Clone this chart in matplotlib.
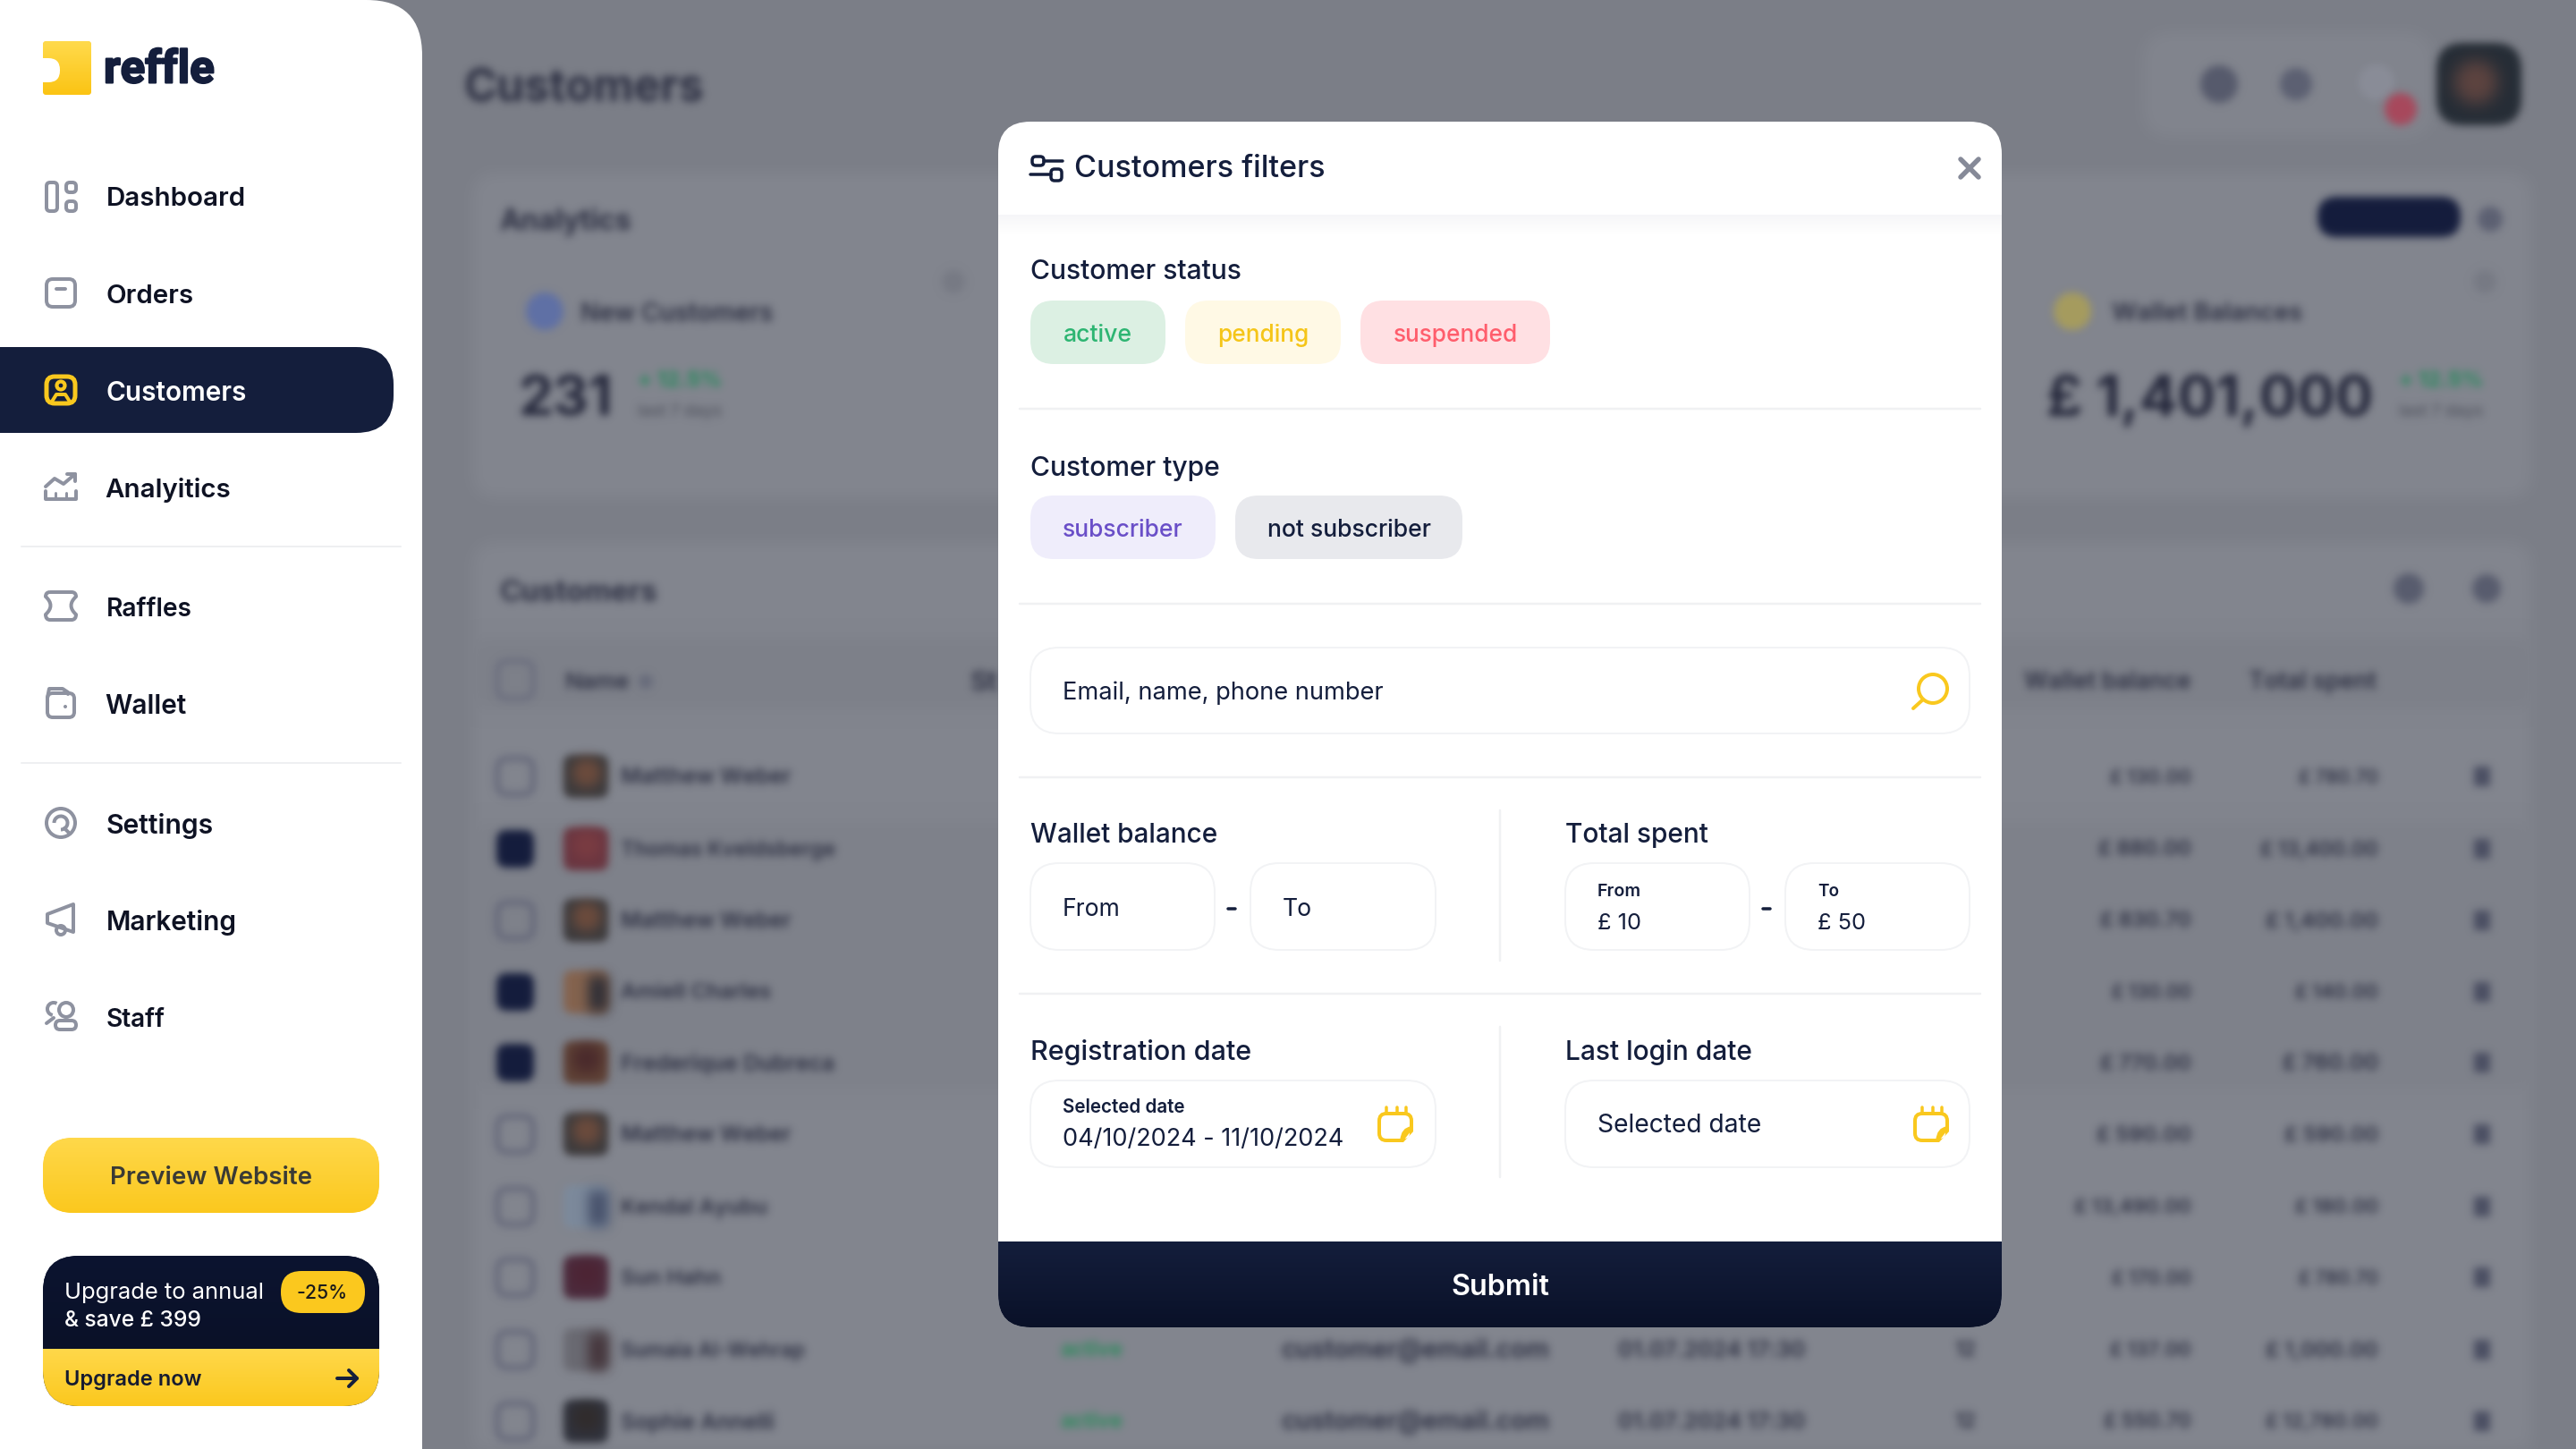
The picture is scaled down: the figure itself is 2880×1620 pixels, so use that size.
import numpy as np
import matplotlib
matplotlib.use("Agg")
from matplotlib import pyplot as plt
from matplotlib.patches import FancyBboxPatch, Circle, Rectangle, PathPatch, Polygon, Arc
from matplotlib.path import Path
from matplotlib import patheffects as pe

plt.rcParams['font.family'] = ['Inter', 'Noto Sans', 'DejaVu Sans']

# sidebar
nav_labels = ["Dashboard", "Orders", "Customers", "Analyitics", "Raffles", "Wallet", "Settings", "Marketing", "Staff"]
nav_y = [219, 328, 436, 544, 678, 786, 920, 1028, 1137]
nav_w = [156, 98, 157, 141, 96, 91, 120, 146, 66]

# modal pills
status_labels = ["active", "pending", "suspended"]
type_labels = ["subscriber", "not subscriber"]

# blurred table behind the modal
row_names = ["Matthew Weber", "Thomas Kveldsberge", "Matthew Weber", "Amiell Charles", "Frederique Dubreca",
             "Matthew Weber", "Kendal Ayubu", "Sun Hahn", "Sumaia Al-Wehrap", "Sophie Annelli"]
row_y = [868, 949, 1029, 1109, 1188, 1268, 1349, 1428, 1509, 1589]
row_name_end = [884, 933, 884, 862, 933, 884, 858, 806, 900, 866]
row_checked = [0, 1, 0, 1, 1, 0, 0, 0, 0, 0]
row_wallet = ["£ 130.00", "£ 880.00", "£ 830.70", "£ 130.00", "£ 770.00", "£ 590.00", "£ 13,490.00", "£ 170.00", "£ 137.00", "£ 550.70"]
row_wallet_start = [2359, 2346, 2348, 2361, 2348, 2344, 2319, 2361, 2359, 2352]
row_total = ["£ 780.70", "£ 13,400.00", "£ 1,400.00", "£ 140.00", "£ 760.00", "£ 590.00", "£ 180.00", "£ 780.70", "£ 1,000.00", "£ 12,780.00"]
row_total_start = [2570, 2527, 2533, 2566, 2552, 2554, 2566, 2570, 2533, 2533]
avatar_cols = [("#3c3a3c", "#6e4c3c"), ("#6a3540", "#7a3c42"), ("#3c3a3c", "#6e4c3c"), ("#85634e", "#2e2e36"),
               ("#5e4034", "#4a2a2c"), ("#3c3a3c", "#6e4c3c"), ("#7c8a9c", "#46506a"), ("#4c2a3c", "#4c2434"),
               ("#6a6a72", "#44343a"), ("#30323c", "#302c2c")]
avatar_split = [0, 0, 0, 1, 0, 0, 1, 0, 1, 0]

INK = "#141E3C"
GREY = "#8E92A0"
YEL = "#F9C81E"
BLUR_INK = "#2c2f42"

fig = plt.figure(figsize=(28.8, 16.2), dpi=100)
ax = fig.add_axes([0, 0, 1, 1])
ax.axis("off")


def blur(sigma):
    pad = int(3 * sigma)
    xs = np.arange(-pad, pad + 1)
    k = np.exp(-xs ** 2 / (2.0 * sigma ** 2))
    k = k / k.sum()

    def f(img, dpi):
        a = img[..., 3]
        i = np.unravel_index(np.argmax(a), a.shape)
        rgb = img[i][:3]
        a = np.pad(a, pad)
        a = np.apply_along_axis(lambda m: np.convolve(m, k, mode="same"), 0, a)
        a = np.apply_along_axis(lambda m: np.convolve(m, k, mode="same"), 1, a)
        out = np.zeros(a.shape + (4,))
        out[..., :3] = rgb
        out[..., 3] = a
        return out, -pad, -pad
    return f


B = blur(4.5)
B_mid = blur(7)
B_big = blur(9)


def box(x0, y0, x1, y1, r, fc, ec="none", lw=0, z=2, flt=None, alpha=None):
    p = FancyBboxPatch((x0, y0), x1 - x0, y1 - y0, boxstyle="round,pad=0,rounding_size=%g" % r,
                       fc=fc, ec=ec, lw=lw * 0.72, zorder=z, alpha=alpha)
    if flt:
        p.set_agg_filter(flt)
    ax.add_patch(p)
    return p


def line(xs, ys, c=GREY, lw=4, z=5, cap="round"):
    ax.plot(xs, ys, color=c, lw=lw * 0.72, zorder=z, solid_capstyle=cap, solid_joinstyle="round")


def label(x, y, s, w=None, size=30, c=INK, weight="medium", ha="left", z=6, flt=None, family=None):
    t = ax.text(x, y + 3.5, s, fontsize=size * 0.72, color=c, fontweight=weight, ha=ha, va="center", zorder=z)
    if family:
        t.set_family(family)
    if w:
        cur = t.get_window_extent(fig.canvas.get_renderer()).width
        t.set_fontsize(t.get_fontsize() * w / cur)
    if flt:
        t.set_agg_filter(flt)
    return t


def grad(clip, x0, y0, x1, y1, top, bottom, z=3):
    c0 = np.array(matplotlib.colors.to_rgb(top))
    c1 = np.array(matplotlib.colors.to_rgb(bottom))
    g = np.linspace(0, 1, 64)[:, None, None]
    im = ax.imshow(c0 + (c1 - c0) * g, extent=(x0, x1, y1, y0), aspect="auto", zorder=z, interpolation="bilinear")
    im.set_clip_path(clip)


# ---- page behind the overlay (blurred)
ax.add_patch(Rectangle((0, 0), 2880, 1620, fc="#7B7E87", ec="none", zorder=0))
box(529, 194, 2830, 556, 24, "#83868F", z=1, flt=B_big)
box(529, 607, 2830, 1700, 24, "#83868F", z=1, flt=B_big)
box(2396, 36, 2720, 153, 30, "#82858E", z=1, flt=B_big)
ax.add_patch(Rectangle((529, 714), 2301, 78, fc="#7D8089", ec="none", zorder=1.2, agg_filter=B_big))
ax.add_patch(Rectangle((529, 920), 2301, 298, fc="#7E818A", ec="none", zorder=1.2, agg_filter=B_big))

label(519, 96, "Customers", w=269, weight="bold", c=BLUR_INK, flt=B, z=1.5)
label(558, 244, "Analytics", w=148, weight="bold", c=BLUR_INK, flt=B, z=1.5)
label(558, 660, "Customers", w=177, weight="bold", c=BLUR_INK, flt=B, z=1.5)
label(649, 348, "New Customers", w=215, weight="semibold", c=BLUR_INK, flt=B, z=1.5)
label(2361, 348, "Wallet Balances", w=213, weight="semibold", c=BLUR_INK, flt=B, z=1.5)
label(580, 445, "231", w=105, weight="bold", c="#23263a", flt=B, z=1.5)
label(2288, 445, "£ 1,401,000", w=365, weight="bold", c="#23263a", flt=B, z=1.5)
for x0 in (713, 2682):
    label(x0, 423, "+ 12.5%", w=94, weight="bold", c="#1f8a58", flt=B, z=1.5)
    label(x0, 457, "last 7 days", w=94, c="#4e515c", flt=B, z=1.5)

for x, y, r, c in [(609, 348, 21, "#5f70a6"), (2317, 348, 21, "#a69c5e"), (2481, 94, 21, "#565a6c"),
                   (2567, 94, 18, "#5c6072"), (2657, 92, 20, "#8a8d98"), (2684, 122, 18, "#a8485c"),
                   (1066, 315, 13, "#777a84"), (2778, 315, 13, "#777a84"), (2693, 658, 17, "#585c6e"),
                   (2780, 658, 16, "#585c6e"), (2784, 245, 14, "#5c6072")]:
    ax.add_patch(Circle((x, y), r, fc=c, ec="none", zorder=1.5, agg_filter=B))
box(2724, 48, 2819, 140, 30, "#262d36", z=1.5, flt=B)
ax.add_patch(Circle((2768, 92), 24, fc="#5e4440", ec="none", zorder=1.6, agg_filter=B_big))
box(2591, 220, 2751, 265, 22, "#141c3c", z=1.5, flt=B)

# table head
box(556, 739, 596, 781, 12, "none", ec="#63667a", lw=4, z=1.5, flt=B)
label(631, 760, "Name", w=72, weight="semibold", c=BLUR_INK, flt=B, z=1.5)
ax.add_patch(Circle((722, 762), 8, fc="#666a7a", ec="none", zorder=1.5, agg_filter=B))
label(1085, 760, "St", w=31, weight="semibold", c=BLUR_INK, flt=B, z=1.5)
label(2263, 760, "Wallet balance", w=186, weight="semibold", c=BLUR_INK, flt=B, z=1.5)
label(2514, 760, "Total spent", w=143, weight="semibold", c=BLUR_INK, flt=B, z=1.5)

for i, name in enumerate(row_names):
    y = row_y[i]
    if row_checked[i]:
        box(555, y - 21, 597, y + 21, 12, "#141c3c", z=1.5, flt=B)
    else:
        box(556, y - 20, 596, y + 20, 12, "none", ec="#5f6276", lw=5, z=1.5, flt=B)
    c0, c1 = avatar_cols[i]
    box(630, y - 24, 680, y + 24, 10, c0, z=1.5, flt=B)
    if avatar_split[i]:
        ax.add_patch(Rectangle((658, y - 18), 22, 40, fc=c1, ec="none", zorder=1.6, agg_filter=B_mid))
    else:
        ax.add_patch(Circle((656, y - 4), 16, fc=c1, ec="none", zorder=1.6, agg_filter=B_mid))
    label(694, y - 2, name, w=row_name_end[i] - 694, weight="semibold", c=BLUR_INK, flt=B, z=1.5)
    label(row_wallet_start[i], y - 2, row_wallet[i], w=2450 - row_wallet_start[i], weight="semibold", c=BLUR_INK, flt=B, z=1.5)
    label(row_total_start[i], y - 2, row_total[i], w=2659 - row_total_start[i], weight="semibold", c=BLUR_INK, flt=B, z=1.5)
    ax.add_patch(Rectangle((2766, y - 11), 18, 22, fc="#4a4e62", ec="none", zorder=1.5, agg_filter=B))
    # the middle columns only show below the modal
    if y > 1484:
        label(1185, y - 2, "active", w=70, weight="bold", c="#2f8a5e", flt=B, z=1.5)
        label(1433, y - 2, "customer@email.com", w=300, weight="semibold", c=BLUR_INK, flt=B, z=1.5)
        label(1809, y - 2, "01.07.2024 17:30", w=210, weight="semibold", c=BLUR_INK, flt=B, z=1.5)
        label(2186, y - 2, "12", w=24, weight="semibold", c=BLUR_INK, flt=B, z=1.5)

# ---- sidebar
box(-120, 0, 472, 1900, 62, "white", z=3)
logo = box(48, 46, 102, 106, 4, "#FFD23C", z=4)
grad(logo, 48, 46, 102, 106, "#FFDA4C", "#FBC414", z=4)
box(20, 65, 67, 92, 13, "white", z=4.5)
lg = label(116, 75, "reffle", w=124, size=60, weight="bold", z=5, family=["Liberation Sans Narrow", "Roboto"])
lg.set_path_effects([pe.withStroke(linewidth=1.5, foreground=INK)])

box(-60, 388, 440, 484, 42, INK, z=4)
for i, s in enumerate(nav_labels):
    x = 117 if s in ("Analyitics", "Wallet") else 118.5
    label(x, nav_y[i], s, w=nav_w[i], weight="semibold", c="white" if s == "Customers" else "#0E1223", z=5)
line([24, 448], [611, 611], c="#EEEFF1", lw=2)
line([24, 448], [853, 853], c="#EEEFF1", lw=2)

# dashboard
box(52, 204, 64, 236, 4, "none", ec=GREY, lw=4, z=5)
box(74, 204, 85, 215, 4, "none", ec=GREY, lw=4, z=5)
box(74, 225, 85, 236, 4, "none", ec=GREY, lw=4, z=5)
# orders
box(52, 312, 84, 343, 7, "none", ec=GREY, lw=4, z=5)
line([63, 73], [323, 323])
# customers
box(52, 421, 84, 451, 9, "none", ec=YEL, lw=5, z=5)
ax.add_patch(Circle((68, 431), 4.5, fc="none", ec=YEL, lw=3, zorder=5))
line([58, 63, 73, 78], [449, 441, 441, 449], c=YEL, lw=4)
# analytics
line([51, 51, 85, 85], [549, 558, 558, 549])
line([62, 62], [551, 556], lw=3)
line([74, 74], [551, 556], lw=3)
line([51, 61, 71, 84], [544, 535, 541, 530])
line([75, 84, 84], [530, 530, 538])
# raffles
rv = [(56, 662), (80, 662), (85, 662), (85, 667), (74, 677), (85, 687), (85, 693), (80, 693), (56, 693),
      (51, 693), (51, 687), (62, 677), (51, 667), (51, 662), (56, 662)]
rc = [Path.MOVETO, Path.LINETO, Path.CURVE3, Path.CURVE3, Path.CURVE3, Path.CURVE3, Path.CURVE3, Path.CURVE3,
      Path.LINETO, Path.CURVE3, Path.CURVE3, Path.CURVE3, Path.CURVE3, Path.CURVE3, Path.CURVE3]
ax.add_patch(PathPatch(Path(rv, rc), fc="none", ec=GREY, lw=4 * 0.72, zorder=5, joinstyle="round"))
# wallet
box(53, 775, 83, 802, 6, "none", ec=GREY, lw=4, z=5)
line([53, 55, 70, 76, 76], [780, 770, 770, 774, 776])
ax.add_patch(Circle((73, 790), 2, fc=GREY, ec="none", zorder=5))
# settings
ax.add_patch(Circle((68, 920), 16, fc="none", ec=GREY, lw=4 * 0.72, zorder=5))
ax.add_patch(Arc((68, 920), 15, 15, theta1=-180, theta2=90, ec=GREY, lw=4 * 0.72, zorder=5))
line([72, 78], [926, 932])
# marketing
ax.add_patch(Polygon([(53, 1022), (82, 1011), (82, 1042), (53, 1032)], fc="none", ec=GREY, lw=4 * 0.72, zorder=5, joinstyle="round"))
ax.add_patch(Circle((68, 1040), 5, fc="none", ec=GREY, lw=4 * 0.72, zorder=5))
# staff
ax.add_patch(Circle((74, 1129), 8, fc="none", ec=GREY, lw=4 * 0.72, zorder=5))
box(62, 1141, 85, 1151, 5, "none", ec=GREY, lw=4, z=5)
ax.add_patch(Arc((60, 1128), 14, 14, theta1=100, theta2=300, ec=GREY, lw=4 * 0.72, zorder=5))
line([52, 60], [1144, 1138])

pw = box(48, 1272, 424, 1356, 34, "#FFD23C", z=4)
grad(pw, 48, 1272, 424, 1356, "#FFD84A", "#FBC81E", z=4)
label(236, 1313, "Preview Website", w=225, weight="semibold", c="#3A3A35", ha="center")

card = box(48, 1404, 424, 1572, 40, "#0A1128", z=4)
grad(card, 48, 1404, 424, 1508, "#0C1430", "#0A1128", z=4)
grad(card, 48, 1508, 424, 1572, "#FFD84A", "#FBC81E", z=4)
label(72, 1442, "Upgrade to annual", w=224, weight="normal", c="white")
label(72, 1473, "& save £ 399", w=153, weight="medium", c="white")
box(314, 1421, 408, 1468, 23, "#FBC81E", z=5)
label(360, 1443, "-25%", w=57, c="#1a1a1a", ha="center")
label(72, 1540, "Upgrade now", w=153, weight="semibold", c="#161b30")
line([377, 399], [1541, 1541], c=INK, lw=4)
line([390, 399, 390], [1532, 1541, 1550], c=INK, lw=4)

# ---- modal
modal = box(1116, 136, 2238, 1484, 36, "white", z=7)


def mbox(*a, **k):
    k.setdefault("z", 8)
    return box(*a, **k)


def mtext(*a, **k):
    k.setdefault("z", 9)
    return label(*a, **k)


def mline(xs, ys, **k):
    k.setdefault("z", 9)
    line(xs, ys, **k)


grad(modal, 1116, 240, 2238, 262, "#F6F6F8", "#FFFFFF", z=7.5)
grad(modal, 1116, 1388, 2238, 1484, "#141E3C", "#0A1128", z=7.5)

# header
mtext(1201, 186, "Customers filters", w=280, weight="medium")
box(1154, 175, 1167, 185, 4, "none", ec=INK, lw=3.5, z=9)
mline([1167, 1188], [180, 180], c=INK, lw=3.5)
mline([1152, 1175], [195, 195], c=INK, lw=3.5)
box(1175, 189, 1187, 202, 4, "none", ec=INK, lw=3.5, z=9)
mline([2192, 2212], [178, 198], c="#868A98", lw=5.5)
mline([2212, 2192], [178, 198], c="#868A98", lw=5.5)

# status
mtext(1152, 301, "Customer status", w=236)
mtext(1152, 520, "Customer type", w=212)
pills = [(status_labels[0], 1152, 1303, 336, 407, "#DCF0E3", "#2DB572", 77),
         (status_labels[1], 1325, 1499, 336, 407, "#FFF9E5", "#F5C518", 102),
         (status_labels[2], 1521, 1733, 336, 407, "#FFE0E3", "#FF5D6C", 139),
         (type_labels[0], 1152, 1359, 554, 625, "#EFEDFB", "#6A4FC8", 135),
         (type_labels[1], 1381, 1635, 554, 625, "#E8E9ED", INK, 183)]
for s, x0, x1, y0, y1, bg, fg, w in pills:
    mbox(x0, y0, x1, y1, 26, bg)
    mtext((x0 + x1) / 2, (y0 + y1) / 2, s, w=w, c=fg, ha="center")

for y in (457, 675, 869, 1111):
    mline([1140, 2214], [y, y], c="#F0F1F3", lw=2.5)
for y0, y1 in ((906, 1074), (1148, 1316)):
    mline([1677, 1677], [y0, y1], c="#F0F1F3", lw=2.5)

FLD = "#F2F3F5"
# search
mbox(1152, 724, 2202, 820, 32, "white", ec=FLD, lw=2)
mtext(1188, 771, "Email, name, phone number", w=360, weight="normal")
ax.add_patch(Circle((2161, 770), 16, fc="none", ec=YEL, lw=4 * 0.72, zorder=9))
mline([2150, 2139], [782, 792], c=YEL, lw=4)

mtext(1152, 931, "Wallet balance", w=209)
mtext(1750, 931, "Total spent", w=160)
mtext(1152, 1173, "Registration date", w=247)
mtext(1750, 1173, "Last login date", w=209)

for x0, x1 in ((1152, 1358), (1398, 1605), (1750, 1956), (1996, 2202)):
    mbox(x0, 965, x1, 1062, 32, "white", ec=FLD, lw=2)
mline([1373, 1381], [1016, 1016], c=INK, lw=3.5)
mline([1971, 1979], [1016, 1016], c=INK, lw=3.5)
mtext(1188, 1014, "From", w=65, weight="normal")
mtext(1434, 1014, "To", w=33, weight="normal")
mtext(1786, 993, "From", w=49, size=20, weight="semibold")
mtext(2032, 993, "To", w=24, size=20, weight="semibold")
mtext(1786, 1029, "£ 10", w=49, weight="normal")
mtext(2032, 1029, "£ 50", w=54, weight="normal")

for x0, x1 in ((1152, 1605), (1750, 2202)):
    mbox(x0, 1208, x1, 1305, 32, "white", ec=FLD, lw=2)
mtext(1188, 1235, "Selected date", w=137, size=20, weight="semibold")
mtext(1188, 1270, "04/10/2024 - 11/10/2024", w=314, weight="normal")
mtext(1786, 1255, "Selected date", w=184, weight="normal")

for x0 in (1541, 2140):
    # calendar icon, body then the folded corner
    box(x0 + 1, 1245, x0 + 37, 1275, 8, "none", ec=YEL, lw=4, z=9)
    ax.add_patch(Polygon([(x0 + 28, 1277), (x0 + 40, 1277), (x0 + 40, 1264)], fc="white", ec="none", zorder=9.1))
    ax.add_patch(PathPatch(Path([(x0 + 37, 1261), (x0 + 27, 1262), (x0 + 26, 1275), (x0 + 37, 1261)],
                                [Path.MOVETO, Path.CURVE3, Path.CURVE3, Path.LINETO]),
                           fc="none", ec=YEL, lw=3.5 * 0.72, zorder=9.2, joinstyle="round"))
    for dx in (9, 21, 31):
        mline([x0 + dx, x0 + dx], [1238, 1245], c=YEL, lw=3.5)

mtext(1677, 1436, "Submit", w=110, c="white", weight="semibold", ha="center")

ax.set_xlim(0, 2880)
ax.set_ylim(1620, 0)
fig.savefig("out.png", dpi=100)
